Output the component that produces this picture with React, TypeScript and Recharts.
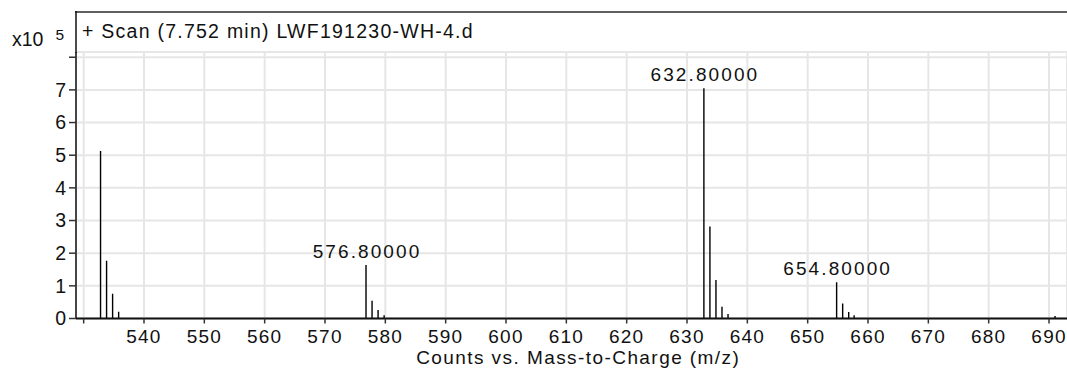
import { Bar, CartesianGrid, ComposedChart, LabelList, XAxis, YAxis } from 'recharts';

// peak positions (m/z) and heights (counts, x10^5)
const MZ = [
  532.8, 533.8, 534.8, 535.8,
  576.8, 577.8, 578.8, 579.8,
  632.8, 633.8, 634.8, 635.8, 636.8,
  654.8, 655.8, 656.8, 657.7,
  691.0,
];
const COUNTS = [
  5.13, 1.77, 0.76, 0.21,
  1.64, 0.54, 0.26, 0.1,
  7.05, 2.82, 1.18, 0.36, 0.14,
  1.11, 0.46, 0.2, 0.1,
  0.08,
];
const LABELLED = ['576.80000', '632.80000', '654.80000'];

const X_TICKS = [530, 540, 550, 560, 570, 580, 590, 600, 610, 620, 630, 640, 650, 660, 670, 680, 690];
const Y_TICKS = [0, 1, 2, 3, 4, 5, 6, 7, 8];

const TITLE = '+ Scan (7.752 min) LWF191230-WH-4.d';
const X_LABEL = 'Counts vs. Mass-to-Charge (m/z)';

const FONT = '"Liberation Sans", Arial, Helvetica, sans-serif';
const INK = '#111';

const data = MZ.map((mz, i) => {
  const txt = mz.toFixed(5);
  return { mz, counts: COUNTS[i], label: LABELLED.includes(txt) ? txt : undefined };
});

export default function App() {
  return (
    <div
      style={{
        position: 'absolute',
        left: 0,
        top: 0,
        width: 1067,
        height: 368,
        background: '#fff',
        fontFamily: FONT,
      }}
    >
      <ComposedChart
        width={1067}
        height={368}
        data={data}
        margin={{ top: 52, right: 0, bottom: 0, left: 0 }}
      >
        <CartesianGrid stroke="#e6e6e6" strokeWidth={2} />
        <XAxis
          dataKey="mz"
          type="number"
          domain={[528.73, 692.98]}
          allowDataOverflow
          ticks={X_TICKS}
          interval={0}
          height={49.5}
          tickSize={5}
          tickMargin={6}
          stroke={INK}
          axisLine={{ stroke: '#111', strokeWidth: 2 }}
          tickLine={{ stroke: '#333', strokeWidth: 1.5 }}
          tick={{ fontSize: 19, fill: INK, letterSpacing: 1.2, fontFamily: FONT }}
          tickFormatter={(v: number) => (v === 530 ? '' : String(v))}
          label={{
            value: X_LABEL,
            position: 'insideBottom',
            offset: 4.5,
            dx: 6.7,
            fill: INK,
            fontSize: 19,
            fontFamily: FONT,
            style: { letterSpacing: 1.43 },
          }}
        />
        <YAxis
          type="number"
          domain={[0, 8.16]}
          allowDataOverflow
          ticks={Y_TICKS}
          interval={0}
          width={76}
          tickSize={7}
          tickMargin={3}
          axisLine={{ stroke: '#111', strokeWidth: 1.5 }}
          tickLine={{ stroke: '#333', strokeWidth: 1.5 }}
          tick={{ fontSize: 19.5, fill: INK, fontFamily: FONT }}
          tickFormatter={(v: number) => (v === 8 ? '' : String(v))}
        />
        <Bar dataKey="counts" fill="#000" barSize={1.4} isAnimationActive={false}>
          <LabelList
            dataKey="label"
            position="top"
            offset={7}
            fill={INK}
            fontSize={19}
            fontFamily={FONT}
            style={{ letterSpacing: 2.1 }}
            dx={1}
          />
        </Bar>
      </ComposedChart>

      {/* frame, title and exponent */}
      <svg
        width={1067}
        height={368}
        style={{ position: 'absolute', left: 0, top: 0, pointerEvents: 'none' }}
      >
        <line x1={75} y1={12} x2={1067} y2={12} stroke="#606060" strokeWidth={2} />
        <line x1={76} y1={11} x2={76} y2={53} stroke="#111" strokeWidth={1.5} />
        <text x={82} y={37.5} fontSize={19.5} fill={INK} fontFamily={FONT} style={{ letterSpacing: 1.25 }}>
          {TITLE}
        </text>
        <text x={12} y={45.5} fontSize={19.5} fill={INK} fontFamily={FONT}>
          x10
        </text>
        <text x={55.5} y={40} fontSize={15.5} fill={INK} fontFamily={FONT}>
          5
        </text>
      </svg>
    </div>
  );
}
